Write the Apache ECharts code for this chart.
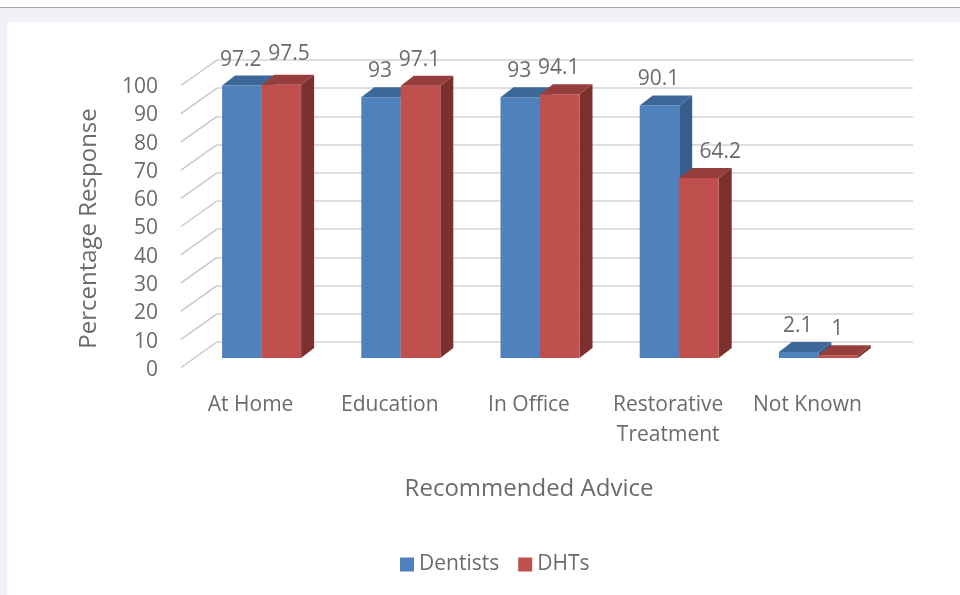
<!DOCTYPE html>
<html>
<head>
<meta charset="utf-8">
<script src="https://cdn.jsdelivr.net/npm/echarts@6/dist/echarts.min.js"></script>
<style>
  html, body { margin: 0; padding: 0; background: #fff; }
  #chart { width: 960px; height: 595px; }
</style>
</head>
<body>
<div id="chart"></div>
<script>
// data
const categories = ['At Home', 'Education', 'In Office', 'Restorative\nTreatment', 'Not Known'];
const dentists = [97.2, 93, 93, 90.1, 2.1];
const dhts = [97.5, 97.1, 94.1, 64.2, 1];
const yTicks = [0, 10, 20, 30, 40, 50, 60, 70, 80, 90, 100];

const textColor = '#6b6b6b';
const font = 'Open Sans';
const LABEL_SIZE = 21;

// 3d look: offsets from the back wall plane (pixels)
const BAR_SHIFT = [-25, 16];   // bar front face vs back wall
const DEPTH = [13, -10];        // bar depth
const WALL = [-36, 25.5];       // left wall depth (back -> front)
const BAR_W = 39.5;

const colors = {
  Dentists: { front: '#4f81bd', top: '#3d6799', side: '#365e8d' },
  DHTs: { front: '#c0504d', top: '#963e3b', side: '#7b302e' }
};

function labelWidth(v) {
  return String(v).length * LABEL_SIZE * 0.55;
}

function barItem(side, name) {
  const c = colors[name];
  return function (params, api) {
    const ci = api.value(0), v = api.value(1);
    const base = api.coord([ci, 0]);
    const top = api.coord([ci, v]);
    const cx = base[0] + BAR_SHIFT[0];
    const xL = side === 0 ? cx - BAR_W : cx;
    const xR = xL + BAR_W;
    const yB = base[1] + BAR_SHIFT[1];
    const scaleY = 0.994;
    const yT = yB - (base[1] - top[1]) * scaleY;
    const dx = DEPTH[0], dy = DEPTH[1];
    let lx = xL + BAR_W / 2 - 1, ly = yT - 26;
    // move the right label out of the way of the left one (like Excel does)
    if (side === 1) {
      const other = dentists[ci];
      const oT = yB - (base[1] - api.coord([ci, other])[1]) * scaleY;
      const oy = oT - 26, ox = cx - BAR_W / 2 - 1;
      const overlapX = (labelWidth(other) + labelWidth(v)) / 2 - (lx - ox);
      if (overlapX > 0 && Math.abs(oy - ly) < LABEL_SIZE * 0.8) {
        lx += overlapX + 2;
        ly -= 5;
      } else if (oT < ly - LABEL_SIZE / 2 && lx - labelWidth(v) / 2 < xL + dx + 5) {
        // left bar is taller: keep the label clear of its side face
        lx = xL + dx + 5 + labelWidth(v) / 2;
      }
    }
    return {
      type: 'group',
      children: [
        { type: 'polygon', shape: { points: [[xR, yT], [xR + dx, yT + dy], [xR + dx, yB + dy], [xR, yB]] },
          style: { fill: c.side } },
        { type: 'rect', shape: { x: xL, y: yT, width: BAR_W, height: yB - yT },
          style: { fill: c.front } },
        { type: 'polygon', shape: { points: [[xL, yT], [xR, yT], [xR + dx, yT + dy], [xL + dx, yT + dy]] },
          style: { fill: c.top } },
        { type: 'text', x: lx, y: ly,
          style: { text: String(v), fill: textColor, font: LABEL_SIZE + 'px "' + font + '"', align: 'center', verticalAlign: 'middle' } }
      ]
    };
  };
}

const chart = echarts.init(document.getElementById('chart'));
chart.setOption({
  backgroundColor: '#fff',
  animation: false,
  graphic: [
    { type: 'rect', shape: { x: 0, y: 7, width: 960, height: 1 }, style: { fill: '#a8a8a8' }, z: -10 },
    { type: 'rect', shape: { x: 0, y: 8, width: 960, height: 14 }, style: { fill: '#f0f1f6' }, z: -10 },
    { type: 'rect', shape: { x: 0, y: 8, width: 7, height: 587 }, style: { fill: '#f0f1f6' }, z: -10 }
  ],
  legend: {
    left: 395, top: 549,
    itemWidth: 14, itemHeight: 14, itemGap: 19,
    icon: 'rect',
    textStyle: { color: textColor, fontSize: 21, fontFamily: font },
    data: ['Dentists', 'DHTs']
  },
  grid: [
    // back wall
    { left: 217, top: 60, width: 696, height: 282 },
    // front plane (labels)
    { left: 181, top: 87, width: 696, height: 283 }
  ],
  xAxis: [
    { gridIndex: 0, type: 'category', data: categories, axisLine: { show: false }, axisTick: { show: false }, axisLabel: { show: false } },
    { gridIndex: 1, type: 'category', data: categories,
      axisLine: { show: false }, axisTick: { show: false },
      axisLabel: { color: textColor, fontSize: 21, fontFamily: font, margin: 20, lineHeight: 30, interval: 0 },
      name: 'Recommended Advice', nameLocation: 'middle', nameGap: 107,
      nameTextStyle: { color: textColor, fontSize: 24, fontFamily: font } }
  ],
  yAxis: [
    { gridIndex: 0, type: 'value', min: 0, max: 100, interval: 10,
      axisLine: { show: false }, axisTick: { show: false }, axisLabel: { show: false },
      splitLine: { lineStyle: { color: '#d3d3d3', width: 1.5 } } },
    { gridIndex: 1, type: 'value', min: 0, max: 100, interval: 10,
      axisLine: { show: false }, axisTick: { show: false }, splitLine: { show: false },
      axisLabel: { color: textColor, fontSize: 21, fontFamily: font, margin: 23 },
      name: 'Percentage Response', nameLocation: 'middle', nameGap: 80,
      nameTextStyle: { color: textColor, fontSize: 24, fontFamily: font } }
  ],
  series: [
    {
      type: 'custom', name: 'wall', xAxisIndex: 0, yAxisIndex: 0, silent: true, z: 1,
      data: yTicks.map(t => [0, t]),
      renderItem: function (params, api) {
        const x0 = params.coordSys.x;
        const y = api.coord([0, api.value(1)])[1];
        return { type: 'line', shape: { x1: x0, y1: y, x2: x0 + WALL[0], y2: y + WALL[1] },
          style: { stroke: '#c8c8c8', lineWidth: 1.5 } };
      }
    },
    {
      type: 'custom', name: 'Dentists', xAxisIndex: 0, yAxisIndex: 0, z: 2,
      itemStyle: { color: colors.Dentists.front },
      data: dentists.map((v, i) => [i, v]),
      renderItem: barItem(0, 'Dentists')
    },
    {
      type: 'custom', name: 'DHTs', xAxisIndex: 0, yAxisIndex: 0, z: 3,
      itemStyle: { color: colors.DHTs.front },
      data: dhts.map((v, i) => [i, v]),
      renderItem: barItem(1, 'DHTs')
    }
  ]
});
</script>
</body>
</html>
